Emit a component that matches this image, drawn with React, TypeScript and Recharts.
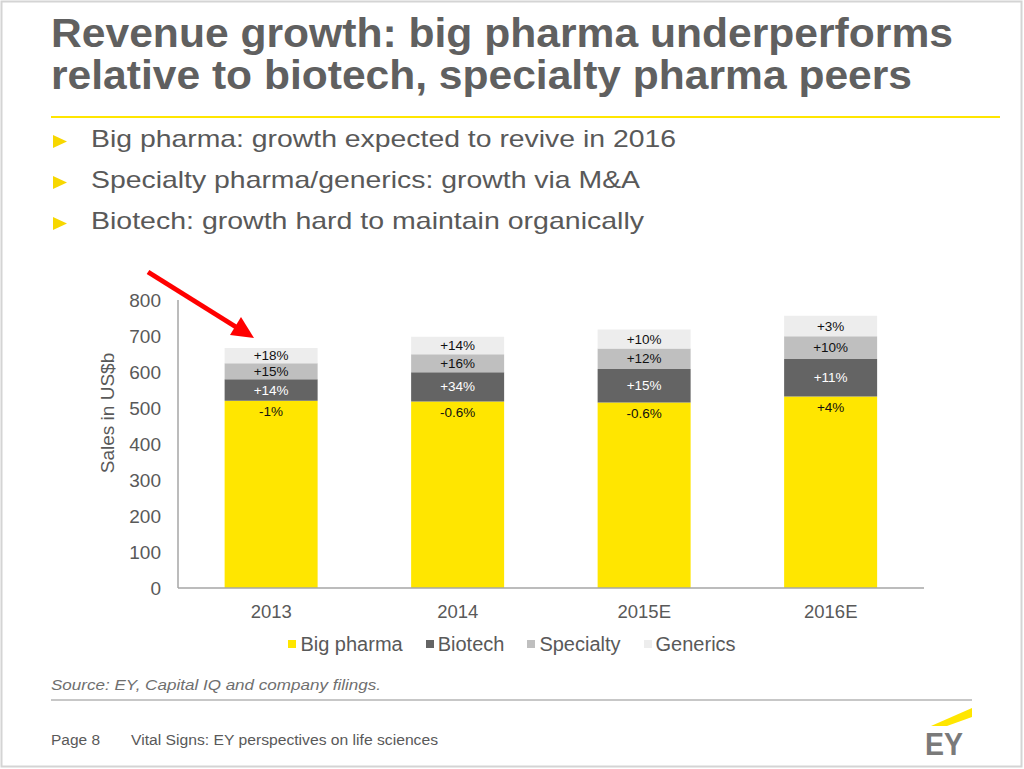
import React from 'react';
import { BarChart, Bar, XAxis, YAxis, Legend, LabelList, Label } from 'recharts';

const years = ['2013', '2014', '2015E', '2016E'];
const bigPharma = [520, 518, 515, 532];
const biotech = [60, 81, 93, 104];
const specialty = [44, 50, 57, 63];
const generics = [43, 49, 53, 57];
const bigPharmaGrowth = ['-1%', '-0.6%', '-0.6%', '+4%'];
const biotechGrowth = ['+14%', '+34%', '+15%', '+11%'];
const specialtyGrowth = ['+15%', '+16%', '+12%', '+10%'];
const genericsGrowth = ['+18%', '+14%', '+10%', '+3%'];
const yTicks = [0, 100, 200, 300, 400, 500, 600, 700, 800];

const bullets = [
  'Big pharma: growth expected to revive in 2016',
  'Specialty pharma/generics: growth via M&A',
  'Biotech: growth hard to maintain organically',
];

const data = years.map((year, i) => ({
  year,
  bigPharma: bigPharma[i],
  biotech: biotech[i],
  specialty: specialty[i],
  generics: generics[i],
  bigPharmaGrowth: bigPharmaGrowth[i],
  biotechGrowth: biotechGrowth[i],
  specialtyGrowth: specialtyGrowth[i],
  genericsGrowth: genericsGrowth[i],
}));

const FONT = '"Liberation Sans", Arial, sans-serif';
const GRAY = '#595959';
const YELLOW = '#FFE600';

const colors = {
  bigPharma: YELLOW,
  biotech: '#646464',
  specialty: '#BFBFBF',
  generics: '#EDEDED',
};

// label inside the segment: centred, or pinned near the top for big pharma
const segmentLabel = (fill: string, atTop = false) => (props: any) => {
  const { x, y, width, height, value } = props;
  const cx = Number(x) + Number(width) / 2;
  const cy = atTop ? Number(y) + 11 : Number(y) + Number(height) / 2;
  return (
    <text x={cx} y={cy} textAnchor="middle" dominantBaseline="central"
      fontSize={13.5} fontFamily={FONT} fill={fill}>
      {value}
    </text>
  );
};

const legendItems = [
  { name: 'Big pharma', color: colors.bigPharma },
  { name: 'Biotech', color: colors.biotech },
  { name: 'Specialty', color: colors.specialty },
  { name: 'Generics', color: colors.generics },
];

const renderLegend = () => (
  <div style={{ height: 40, boxSizing: 'border-box', paddingTop: 12, display: 'flex', justifyContent: 'center', gap: 23, fontFamily: FONT, fontSize: 20, color: GRAY, lineHeight: '22px' }}>
    {legendItems.map((it) => (
      <div key={it.name} style={{ display: 'flex', alignItems: 'center' }}>
        <span style={{ width: 8, height: 8, background: it.color, marginRight: 4, display: 'inline-block' }} />
        <span>{it.name}</span>
      </div>
    ))}
  </div>
);

export default function App() {
  return (
    <div style={{ position: 'absolute', left: 0, top: 0, width: 1024, height: 769, background: '#fff', overflow: 'hidden' }}>
      <svg width={1024} height={769} style={{ position: 'absolute', left: 0, top: 0 }} fontFamily={FONT}>
        <rect x={1.5} y={1.5} width={1020} height={765} fill="none" stroke="#D4D4D4" strokeWidth={2} />
        <text x={51} y={47} fontSize={41} fontWeight="bold" fill="#606060" textLength={902} lengthAdjust="spacingAndGlyphs">
          Revenue growth: big pharma underperforms
        </text>
        <text x={51} y={89} fontSize={41} fontWeight="bold" fill="#606060" textLength={861} lengthAdjust="spacingAndGlyphs">
          relative to biotech, specialty pharma peers
        </text>
        <line x1={51} x2={1000} y1={117} y2={117} stroke={YELLOW} strokeWidth={2} />
        {bullets.map((b, i) => {
          const base = 147 + i * 41;
          const widths = [585, 549, 553];
          return (
            <g key={b}>
              <polygon points={`53,${base - 12} 53,${base + 1} 67,${base - 5.5}`} fill="#F7D700" />
              <text x={91} y={base} fontSize={24} fill={GRAY} textLength={widths[i]} lengthAdjust="spacingAndGlyphs">{b}</text>
            </g>
          );
        })}
        {/* red arrow */}
        <line x1={148} y1={272} x2={236} y2={327} stroke="#FF0000" strokeWidth={5} />
        <polygon points="254,338 230,335 241,317" fill="#FF0000" />
        <text x={51} y={690} fontSize={15} fontStyle="italic" fill="#6F6F6F" textLength={330} lengthAdjust="spacingAndGlyphs">
          Source: EY, Capital IQ and company filings.
        </text>
        <line x1={51} x2={972} y1={700} y2={700} stroke="#B5B5B5" strokeWidth={1.5} />
        <text x={51} y={745} fontSize={14} fill={GRAY} textLength={49} lengthAdjust="spacingAndGlyphs">Page 8</text>
        <text x={131} y={745} fontSize={14} fill={GRAY} textLength={307} lengthAdjust="spacingAndGlyphs">
          Vital Signs: EY perspectives on life sciences
        </text>
        <polygon points="931,726 972,708 972,717 947,726" fill={YELLOW} />
        <text x={925} y={755} fontSize={31} fontWeight="bold" fill="#7A7A7A" textLength={38} lengthAdjust="spacingAndGlyphs">EY</text>
      </svg>
      <div style={{ position: 'absolute', left: 0, top: 0 }}>
        <BarChart width={1024} height={670} data={data} margin={{ top: 300, right: 100, bottom: 12, left: 100 }} barCategoryGap="25%">
          <XAxis dataKey="year" tickLine={false} axisLine={{ stroke: '#A6A6A6', strokeWidth: 1.5 }}
            tick={{ fill: GRAY, fontSize: 18.5, fontFamily: FONT }} tickMargin={11} height={30} />
          <YAxis width={78} domain={[0, 800]} ticks={yTicks} tickLine={false} interval={0}
            axisLine={{ stroke: '#A6A6A6', strokeWidth: 1.5 }}
            tick={{ fill: GRAY, fontSize: 19, fontFamily: FONT }} tickMargin={11}>
            <Label content={() => (
              <text x={107} y={413} transform="rotate(-90 107 413)" textAnchor="middle" dominantBaseline="central"
                fontSize={19} fontFamily={FONT} fill={GRAY}>
                Sales in US$b
              </text>
            )} />
          </YAxis>
          <Legend verticalAlign="bottom" content={renderLegend} />
          <Bar dataKey="bigPharma" name="Big pharma" stackId="s" fill={colors.bigPharma} isAnimationActive={false}>
            <LabelList dataKey="bigPharmaGrowth" content={segmentLabel('#111', true)} />
          </Bar>
          <Bar dataKey="biotech" name="Biotech" stackId="s" fill={colors.biotech} isAnimationActive={false}>
            <LabelList dataKey="biotechGrowth" content={segmentLabel('#fff')} />
          </Bar>
          <Bar dataKey="specialty" name="Specialty" stackId="s" fill={colors.specialty} isAnimationActive={false}>
            <LabelList dataKey="specialtyGrowth" content={segmentLabel('#111')} />
          </Bar>
          <Bar dataKey="generics" name="Generics" stackId="s" fill={colors.generics} isAnimationActive={false}>
            <LabelList dataKey="genericsGrowth" content={segmentLabel('#111')} />
          </Bar>
        </BarChart>
      </div>
    </div>
  );
}
